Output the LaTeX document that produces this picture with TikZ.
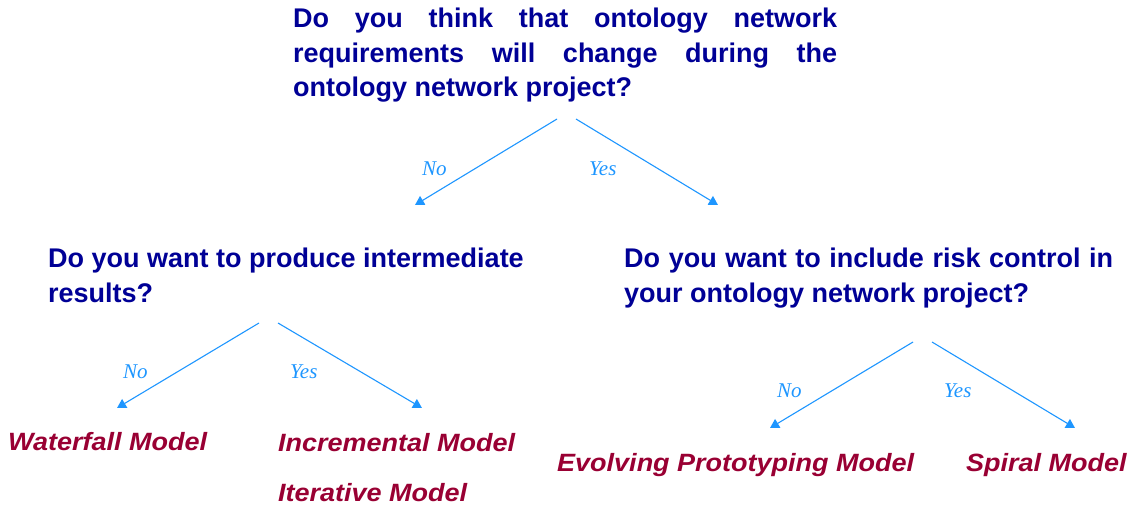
\documentclass[tikz,border=0pt]{standalone}
\usepackage{fontspec}
\setmainfont{Liberation Sans}
\newfontfamily\qfont{Liberation Sans}
\newfontfamily\mfont[FakeStretch=1.08]{Liberation Sans}
\newfontfamily\lfont{Liberation Serif}
\usetikzlibrary{arrows.meta}
\definecolor{qblue}{RGB}{0,0,150}
\definecolor{mred}{RGB}{153,0,51}
\definecolor{abl}{RGB}{30,150,255}
\tikzset{
  question/.style={anchor=base west, inner sep=0pt, text=qblue,
    font=\qfont\bfseries\fontsize{27}{34.5}\selectfont},
  model/.style={anchor=base west, inner sep=0pt, text=mred,
    font=\mfont\bfseries\itshape\fontsize{25}{30}\selectfont},
  answer/.style={anchor=base west, inner sep=0pt, text=abl,
    font=\lfont\itshape\fontsize{21}{24}\selectfont},
  branch/.style={draw=abl, line width=1.1pt, -{Triangle[length=9pt,width=10pt]}}
}
\begin{document}
\begin{tikzpicture}[x=1pt,y=-1pt]
\useasboundingbox (0,0) rectangle (1134,508);
% questions
\node[question] (q1) at (293,28) {\parbox[t]{544pt}{\baselineskip=34.5pt
  \makebox[544pt][s]{Do you think that ontology network}\\
  \makebox[544pt][s]{requirements will change during the}\\
  ontology network project?}};
\node[question] (q2) at (48,267) {\parbox[t]{490pt}{\baselineskip=35pt
  Do you want to produce intermediate\\results?}};
\node[question] (q3) at (624,267) {\parbox[t]{490pt}{\baselineskip=35pt
  \makebox[489pt][s]{Do you want to include risk control in}\\
  your ontology network project?}};
% models
\node[model] (waterfall) at (8,450) {Waterfall Model};
\node[model] (incremental) at (278,451) {Incremental Model};
\node[model] (iterative) at (278,501) {Iterative Model};
\node[model] (evolving) at (557,471) {Evolving Prototyping Model};
\node[model] (spiral) at (966,471) {Spiral Model};
% connector end points
\coordinate (q1l) at (557,119);
\coordinate (q1r) at (576,119);
\coordinate (q2in) at (415,205);
\coordinate (q3in) at (718,205);
\coordinate (q2l) at (259,323);
\coordinate (q2r) at (278,323);
\coordinate (wfin) at (117,408);
\coordinate (incin) at (422,408);
\coordinate (q3l) at (913,342);
\coordinate (q3r) at (932,342);
\coordinate (evin) at (770,428);
\coordinate (spin) at (1075,428);
\draw[branch] (q1l) -- (q2in);
\draw[branch] (q1r) -- (q3in);
\draw[branch] (q2l) -- (wfin);
\draw[branch] (q2r) -- (incin);
\draw[branch] (q3l) -- (evin);
\draw[branch] (q3r) -- (spin);
% answers
\node[answer] (no1) at (422,175) {No};
\node[answer] (yes1) at (589,175) {Yes};
\node[answer] (no2) at (123,378) {No};
\node[answer] (yes2) at (290,378) {Yes};
\node[answer] (no3) at (777,397) {No};
\node[answer] (yes3) at (944,397) {Yes};
\end{tikzpicture}
\end{document}
